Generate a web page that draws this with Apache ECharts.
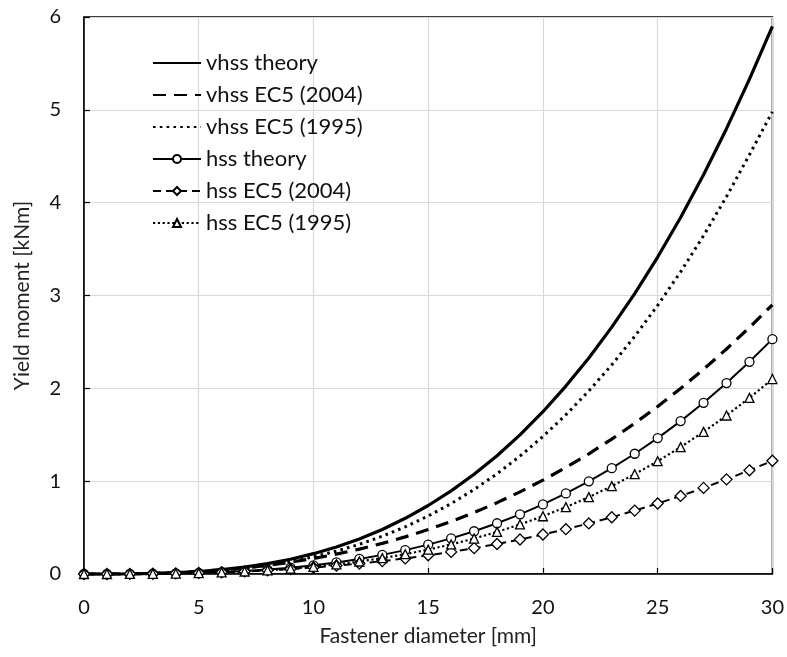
<!DOCTYPE html>
<html>
<head>
<meta charset="utf-8">
<script src="https://cdn.jsdelivr.net/npm/echarts@6/dist/echarts.min.js"></script>
<style>html,body{margin:0;padding:0;background:#fff}#c{width:787px;height:657px}</style>
</head>
<body>
<div id="c"></div>
<script>
const diameters = [0,1,2,3,4,5,6,7,8,9,10,11,12,13,14,15,16,17,18,19,20,21,22,23,24,25,26,27,28,29,30];
const vhssTheory = [0,0.0002,0.0017,0.0059,0.014,0.027,0.047,0.075,0.112,0.159,0.219,0.291,0.378,0.48,0.6,0.738,0.895,1.074,1.274,1.499,1.748,2.024,2.327,2.659,3.021,3.414,3.841,4.301,4.797,5.33,5.9];
const vhssEC2004 = [0,0.0004,0.0025,0.0073,0.0154,0.0275,0.0441,0.0659,0.0933,0.1267,0.1666,0.2135,0.2677,0.3297,0.3998,0.4783,0.5658,0.6623,0.7684,0.8844,1.0106,1.1473,1.2948,1.4534,1.6234,1.8052,1.999,2.205,2.4238,2.6553,2.9];
const vhssEC1995 = [0,0.0002,0.0015,0.005,0.012,0.023,0.04,0.064,0.095,0.135,0.185,0.246,0.32,0.407,0.508,0.625,0.758,0.91,1.08,1.27,1.481,1.715,1.972,2.253,2.56,2.894,3.255,3.645,4.065,4.517,4.98];
const hssTheory = [0,0.0001,0.0007,0.0025,0.006,0.0117,0.0202,0.0321,0.048,0.0683,0.0937,0.1247,0.1619,0.2059,0.2571,0.3163,0.3838,0.4604,0.5465,0.6427,0.7496,0.8678,0.9978,1.1401,1.2954,1.4641,1.6469,1.8444,2.057,2.2855,2.53];
const hssEC2004 = [0,0.0002,0.0011,0.0031,0.0065,0.0116,0.0186,0.0277,0.0393,0.0533,0.0701,0.0898,0.1126,0.1387,0.1682,0.2012,0.238,0.2786,0.3233,0.3721,0.4251,0.4827,0.5447,0.6114,0.683,0.7594,0.8409,0.9276,1.0197,1.117,1.22];
const hssEC1995 = [0,0.0001,0.0006,0.0021,0.005,0.0097,0.0168,0.0267,0.0398,0.0567,0.0778,0.1035,0.1344,0.1709,0.2134,0.2625,0.3186,0.3821,0.4536,0.5335,0.6222,0.7203,0.8282,0.9463,1.0752,1.2153,1.367,1.5309,1.7074,1.8971,2.1];
const seriesNames = ['vhss theory','vhss EC5 (2004)','vhss EC5 (1995)','hss theory','hss EC5 (2004)','hss EC5 (1995)'];
const xTicks = [0,5,10,15,20,25,30];
const yTicks = [0,1,2,3,4,5,6];

const FONT = 'Lato';
const TXT = '#111';
const pairs = arr => diameters.map((d,i)=>[d,arr[i]]);
const mk = (name, arr, lw, type, symbol, symSize, cap) => ({
  name, type:'line', data: pairs(arr), smooth: false, clip:false,
  symbol: symbol || 'circle', symbolSize: symSize || 0, showSymbol: !!symbol,
  lineStyle:{color:'#000', width:lw, type:type, cap: cap||'butt'},
  itemStyle: symbol ? {color:'#fff', borderColor:'#000', borderWidth:1.3}
                    : {color:'rgba(0,0,0,0)', borderColor:'rgba(0,0,0,0)', borderWidth:0},
  emphasis:{disabled:true}, animation:false
});

const chart = echarts.init(document.getElementById('c'));
chart.setOption({
  animation:false,
  grid:{left:84, top:17, right:12, bottom:83, show:true, borderColor:'#000', borderWidth:1.5, containLabel:false},
  legend:{
    orient:'vertical', left:147, top:47, itemWidth:48, itemHeight:10, itemGap:10,
    textStyle:{fontFamily:FONT, fontSize:22, color:TXT},
    data: seriesNames
  },
  xAxis:{
    type:'value', min:0, max:30, interval:5,
    name:'Fastener diameter [mm]', nameLocation:'middle', nameGap:52,
    nameTextStyle:{fontFamily:FONT, fontSize:21, color:'#222'},
    axisLine:{show:true, onZero:false, lineStyle:{color:'#000', width:1.5}},
    axisTick:{show:true, inside:true, length:6, lineStyle:{color:'#000', width:1.2}},
    axisLabel:{fontFamily:FONT, fontSize:20, color:TXT, margin:24, formatter:v=>xTicks.includes(v)?String(v):''},
    splitLine:{show:true, lineStyle:{color:'#d9d9d9', width:1.2}}
  },
  yAxis:{
    type:'value', min:0, max:6, interval:1,
    name:'Yield moment [kNm]', nameLocation:'middle', nameGap:51, nameRotate:90,
    nameTextStyle:{fontFamily:FONT, fontSize:21, color:'#222'},
    axisLine:{show:true, onZero:false, lineStyle:{color:'#000', width:1.5}},
    axisTick:{show:true, inside:true, length:6, lineStyle:{color:'#000', width:1.2}},
    axisLabel:{fontFamily:FONT, fontSize:20, color:TXT, margin:23, formatter:v=>yTicks.includes(v)?String(v):''},
    splitLine:{show:true, lineStyle:{color:'#d9d9d9', width:1.2}}
  },
  series:[
    mk(seriesNames[0], vhssTheory, 3.2, 'solid'),
    mk(seriesNames[1], vhssEC2004, 3.2, [13,8]),
    mk(seriesNames[2], vhssEC1995, 3, [2.6,4.2]),
    mk(seriesNames[3], hssTheory, 2, 'solid', 'circle', 9),
    mk(seriesNames[4], hssEC2004, 2, [8,5], 'diamond', 11),
    mk(seriesNames[5], hssEC1995, 2.2, [2.2,2.6], 'triangle', 9)
  ]
});
</script>
</body>
</html>
